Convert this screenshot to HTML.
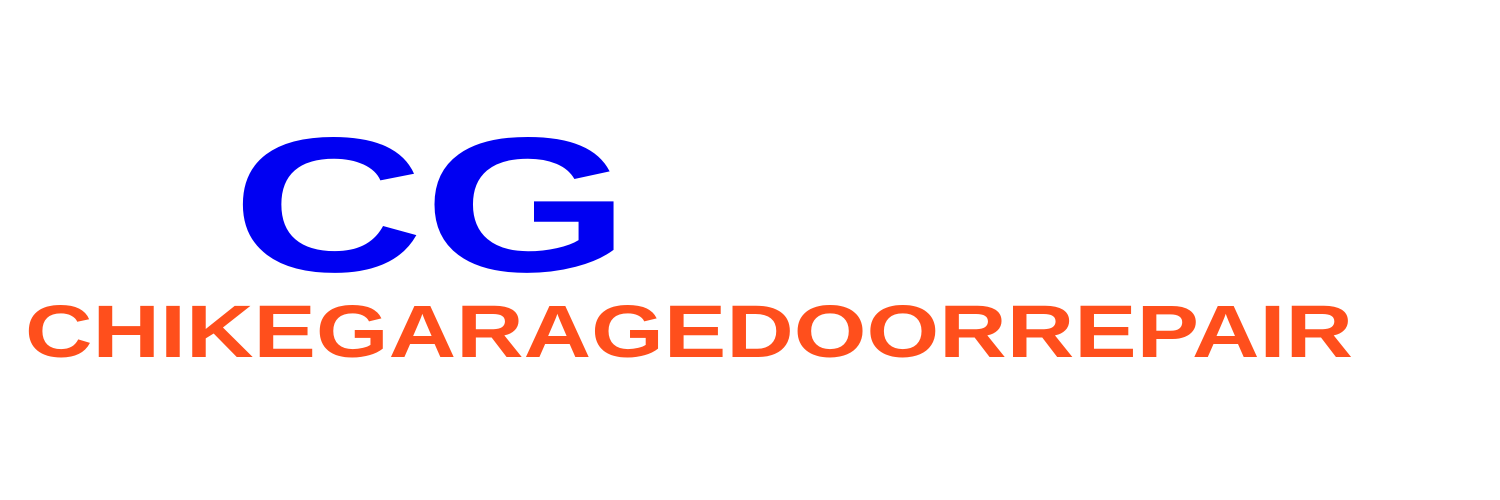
<!DOCTYPE html>
<html>
<head>
<meta charset="utf-8">
<style>
  html,body{margin:0;padding:0;background:#fff;}
  svg{display:block;}
</style>
</head>
<body>
<svg width="1500" height="500" viewBox="0 0 1500 500">
  <rect x="0" y="0" width="1500" height="500" fill="#ffffff"/>
  <text x="232" y="271" font-family="Liberation Sans, sans-serif" font-weight="bold" font-size="192" fill="#0000f2" textLength="398" lengthAdjust="spacingAndGlyphs">CG</text>
  <text x="25" y="357" font-family="Liberation Sans, sans-serif" font-weight="bold" font-size="74" fill="#ff4f1c" textLength="1328" lengthAdjust="spacingAndGlyphs">CHIKEGARAGEDOORREPAIR</text>
</svg>
</body>
</html>
